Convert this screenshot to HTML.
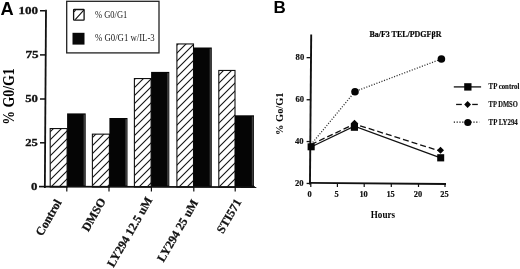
<!DOCTYPE html>
<html><head><meta charset="utf-8">
<style>
html,body{margin:0;padding:0;background:#fff;}
body{width:520px;height:269px;overflow:hidden;}
svg{display:block;filter:blur(0.3px);}
.sb{font-family:"Liberation Sans",sans-serif;font-weight:bold;}
.rb{font-family:"Liberation Serif",serif;font-weight:bold;}
.r{font-family:"Liberation Serif",serif;}
</style></head>
<body>
<svg width="520" height="269" viewBox="0 0 520 269">
<defs>
<pattern id="hatch" patternUnits="userSpaceOnUse" x="6" y="0" width="8" height="8">
<path d="M-1,1 l2,-2 M0,8 l8,-8 M7,9 l2,-2" stroke="#111" stroke-width="1.1"/>
</pattern>
</defs>
<rect width="520" height="269" fill="#fff"/>

<!-- ===== Panel A ===== -->
<text class="sb pl" x="0.6" y="14.7" font-size="18.3">A</text>

<!-- y axis -->
<line x1="46.0" y1="9.8" x2="44.85" y2="188" stroke="#111" stroke-width="1.8"/>
<g fill="#111">
<rect x="40" y="10" width="5" height="1.5"/>
<rect x="40" y="54.15" width="5" height="1.5"/>
<rect x="40" y="98.25" width="5" height="1.5"/>
<rect x="40" y="142.05" width="5" height="1.5"/>
<rect x="39" y="185.8" width="6" height="1.6"/>
</g>
<g class="rb ya" font-size="11.3" text-anchor="end" fill="#111" stroke="#111" stroke-width="0.3">
<text x="38.1" y="13.9" textLength="19.6" lengthAdjust="spacingAndGlyphs">100</text>
<text x="38.6" y="58.1" textLength="13.2" lengthAdjust="spacingAndGlyphs">75</text>
<text x="38.0" y="102.1" textLength="12.8" lengthAdjust="spacingAndGlyphs">50</text>
<text x="37.8" y="145.9" textLength="12.6" lengthAdjust="spacingAndGlyphs">25</text>
<text x="37.3" y="189.6" textLength="6.4" lengthAdjust="spacingAndGlyphs">0</text>
</g>
<text class="rb yl" font-size="16.5" transform="translate(14.1,96.5) rotate(-90)" text-anchor="middle" textLength="56.5" lengthAdjust="spacingAndGlyphs">% G0/G1</text>

<!-- bars -->
<g stroke="#111" stroke-width="1.1">
<rect x="50.20" y="128.55" width="16.90" height="58.45" fill="url(#hatch)"/>
<rect x="92.40" y="134.15" width="17.00" height="52.85" fill="url(#hatch)"/>
<rect x="134.40" y="78.55" width="16.70" height="108.45" fill="url(#hatch)"/>
<rect x="176.90" y="43.95" width="16.60" height="143.05" fill="url(#hatch)"/>
<rect x="218.80" y="70.45" width="16.20" height="116.55" fill="url(#hatch)"/>
</g>
<g fill="#050505">
<rect x="67.10" y="113.40" width="18.60" height="73.60"/>
<rect x="109.40" y="118.00" width="18.10" height="69.00"/>
<rect x="151.10" y="71.90" width="18.20" height="115.10"/>
<rect x="193.50" y="47.50" width="18.30" height="139.50"/>
<rect x="235.00" y="115.30" width="19.00" height="71.70"/>
</g>
<g fill="#555" opacity="0.7">
<rect x="83.50" y="114.60" width="1.7" height="71.00"/>
<rect x="125.30" y="119.20" width="1.7" height="66.40"/>
<rect x="167.10" y="73.10" width="1.7" height="112.50"/>
<rect x="209.60" y="48.70" width="1.7" height="136.90"/>
<rect x="251.80" y="116.50" width="1.7" height="69.10"/>
</g>
<!-- x axis -->
<line x1="44.8" y1="186.6" x2="256.3" y2="187.2" stroke="#111" stroke-width="1.8"/>
<g fill="#111">
<rect x="66.2" y="187" width="1.2" height="4.5"/>
<rect x="108.4" y="187" width="1.2" height="4.5"/>
<rect x="150.8" y="187" width="1.2" height="4.5"/>
<rect x="193.2" y="187" width="1.2" height="4.5"/>
<rect x="234.6" y="187" width="1.2" height="4.5"/>
</g>
<g class="rb xl" font-size="12" text-anchor="end" fill="#111" stroke="#111" stroke-width="0.25">
<text transform="translate(62,202.3) rotate(-60)">Control</text>
<text transform="translate(106.2,201) rotate(-60)">DMSO</text>
<text transform="translate(152.7,200) rotate(-60)">LY294 12.5 uM</text>
<text transform="translate(198.4,202.5) rotate(-60)">LY294 25 uM</text>
<text transform="translate(241.8,201.8) rotate(-60)">STI571</text>
</g>

<!-- legend A -->
<rect x="66.7" y="1.3" width="92.3" height="51.6" fill="none" stroke="#222" stroke-width="1.3"/>
<rect x="73.6" y="9.5" width="10.5" height="10.7" rx="0.6" fill="#fff" stroke="#111" stroke-width="1.3"/>
<path d="M75.2,19.6 L83.8,10.2 M73.9,11.9 L75.6,10.1" stroke="#111" stroke-width="1.1"/>
<rect x="72.5" y="32.8" width="12" height="11.8" fill="#080808"/>
<g class="r" font-size="9.6" fill="#222">
<text x="95" y="18" textLength="32.3" lengthAdjust="spacingAndGlyphs">% G0/G1</text>
<text x="95" y="41" textLength="59.7" lengthAdjust="spacingAndGlyphs">% G0/G1 w/IL-3</text>
</g>

<!-- ===== Panel B ===== -->
<text class="sb pl" x="273.4" y="13.2" font-size="17">B</text>
<text class="rb" x="369.4" y="37.1" font-size="8.3" textLength="72" lengthAdjust="spacingAndGlyphs" stroke="#111" stroke-width="0.2">Ba/F3 TEL/PDGF&#946;R</text>

<!-- axes -->
<line x1="311.2" y1="34.6" x2="309.95" y2="184.6" stroke="#111" stroke-width="1.9"/>
<line x1="309.5" y1="182.8" x2="446" y2="184.0" stroke="#111" stroke-width="1.8"/>
<g fill="#111">
<rect x="306.6" y="57" width="4" height="1.3"/>
<rect x="306.6" y="99.1" width="4" height="1.3"/>
<rect x="306.6" y="140.9" width="4" height="1.3"/>
<rect x="306.6" y="182.8" width="4" height="1.3"/>
<rect x="310.2" y="183" width="1.2" height="4"/>
<rect x="336.8" y="183" width="1.2" height="4"/>
<rect x="363.6" y="183" width="1.2" height="4"/>
<rect x="390.7" y="183" width="1.2" height="4"/>
<rect x="417.9" y="183" width="1.2" height="4"/>
<rect x="444.4" y="183" width="1.2" height="4"/>
</g>
<g class="rb yb" font-size="8.6" text-anchor="end" fill="#111" stroke="#111" stroke-width="0.2">
<text x="304.2" y="60.1">80</text>
<text x="304.1" y="102.0">60</text>
<text x="303.6" y="143.9">40</text>
<text x="303.5" y="186.0">20</text>
</g>
<g class="rb xb" font-size="8.4" text-anchor="middle" fill="#111" stroke="#111" stroke-width="0.2">
<text x="309.6" y="196.8">0</text>
<text x="336.6" y="196.8">5</text>
<text x="363.6" y="196.8">10</text>
<text x="390.6" y="196.8">15</text>
<text x="417.9" y="196.8">20</text>
<text x="444.4" y="196.8">25</text>
</g>
<text class="rb" x="370.8" y="218.2" font-size="11.3" textLength="24.2" lengthAdjust="spacingAndGlyphs">Hours</text>
<text class="rb yl2" font-size="10.2" transform="translate(283.3,113.7) rotate(-90)" text-anchor="middle" textLength="42.5" lengthAdjust="spacingAndGlyphs">% Go/G1</text>

<!-- data lines -->
<polyline points="311,144.6 355,91.5 441.4,59" fill="none" stroke="#333" stroke-width="1.3" stroke-dasharray="1.1 1.6"/>
<polyline points="311,144.6 354.5,124 440.5,151.2" fill="none" stroke="#111" stroke-width="1.3" stroke-dasharray="6 3"/>
<polyline points="311,147 354.4,126.2 440.6,157.8" fill="none" stroke="#111" stroke-width="1.3"/>
<g fill="#050505">
<circle cx="355" cy="91.8" r="3.8"/>
<circle cx="441.4" cy="59" r="3.8"/>
<path d="M354.5,119.7 L358.3,123.5 L354.5,127.3 L350.7,123.5Z"/>
<path d="M440.5,146.8 L444,150.3 L440.5,153.8 L437,150.3Z"/>
<rect x="307.6" y="143.3" width="7.1" height="7"/>
<rect x="350.8" y="123.8" width="7.2" height="7"/>
<rect x="437.2" y="154.2" width="7" height="7.2"/>
</g>

<!-- legend B -->
<rect x="453.8" y="86.2" width="27.3" height="1.4" fill="#222"/>
<rect x="464.2" y="83.2" width="7.3" height="7.4" fill="#050505"/>
<rect x="456.1" y="103.8" width="5.7" height="1.3" fill="#111"/>
<rect x="472.2" y="103.8" width="5.6" height="1.3" fill="#111"/>
<path d="M467.6,101.1 L471,104.5 L467.6,107.9 L464.2,104.5Z" fill="#050505"/>
<line x1="453.8" y1="122.2" x2="479.2" y2="122.2" stroke="#111" stroke-width="1.3" stroke-dasharray="1.2 1.6"/>
<circle cx="467.8" cy="122.5" r="3.6" fill="#050505"/>
<g class="rb lb" font-size="7.5" fill="#111" stroke="#111" stroke-width="0.15">
<text x="488.6" y="89.2" textLength="30.8" lengthAdjust="spacingAndGlyphs">TP control</text>
<text x="488.6" y="107.3" textLength="29.2" lengthAdjust="spacingAndGlyphs">TP DMSO</text>
<text x="488.6" y="125.3" textLength="29.2" lengthAdjust="spacingAndGlyphs">TP LY294</text>
</g>
</svg>
</body></html>
